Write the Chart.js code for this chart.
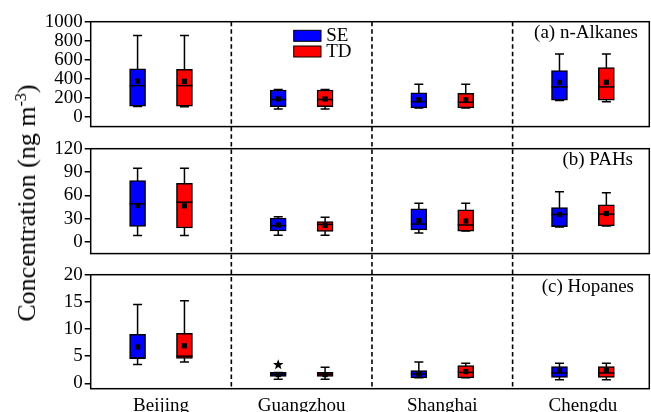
<!DOCTYPE html>
<html>
<head>
<meta charset="utf-8">
<script src="https://cdn.jsdelivr.net/npm/chart.js@4.4.1/dist/chart.umd.min.js"></script>
<style>
  html, body { margin: 0; padding: 0; background: #fff; }
  #wrap { position: relative; width: 651px; height: 412px; overflow: hidden;
          font-family: "Liberation Serif", "Times New Roman", serif; }
  .panel { position: absolute; left: 0; width: 651px; }
  #ytitle { position: absolute; left: 27px; top: 203px; white-space: nowrap;
            transform: translate(-50%, -50%) rotate(-90deg); font-size: 26px; color: #000; }
  #ytitle sup { font-size: 0.62em; vertical-align: 0.55em; line-height: 0; }
</style>
</head>
<body>
<div id="wrap">
  <div class="panel" style="top:0;height:140px"><canvas id="pa"></canvas></div>
  <div class="panel" style="top:126.6px;height:140px"><canvas id="pb"></canvas></div>
  <div class="panel" style="top:252.6px;height:159.4px"><canvas id="pc"></canvas></div>
  <div id="ytitle">Concentration (ng m<sup>-3</sup>)</div>
</div>
<script>
// Sites along the x axis
const cities = ['Beijing', 'Guangzhou', 'Shanghai', 'Chengdu'];
const seriesNames = ['SE', 'TD'];

// Box statistics per city: [min, q1, median, q3, max]
const alkanesSE = [[110, 113, 329, 505, 855], [84, 110, 184, 284, 288], [95, 97, 162, 255, 345], [175, 177, 316, 487, 661]];
const alkanesTD = [[108, 113, 330, 500, 855], [84, 110, 184, 284, 288], [95, 97, 155, 249, 345], [161, 177, 316, 519, 661]];
const alkanesSEMean = [377, 190, 181, 365];
const alkanesTDMean = [375, 190, 181, 365];

const pahsSE = [[8.3, 19.9, 49.2, 79, 95], [8.7, 14.3, 21, 30.6, 32.5], [11.5, 15.5, 23, 42.5, 49.7], [19.3, 19.5, 35.4, 44.1, 64.7]];
const pahsTD = [[8.3, 17.9, 51.2, 75.5, 95], [8.7, 13.5, 22.6, 26.2, 31.8], [14, 14, 21.8, 41.3, 49.7], [20.5, 20.7, 35.8, 47.7, 63.2]];
const pahsSEMean = [46.9, 21.9, 27.4, 35.4];
const pahsTDMean = [46.5, 21.4, 27, 36.6];

const hopanesSE = [[3.45, 4.6, 4.6, 9.0, 14.5], [0.74, 1.24, 1.66, 2.0, 2.0], [1.0, 1.0, 1.73, 2.35, 3.9], [0.63, 1.1, 1.9, 3.08, 3.7]];
const hopanesTD = [[3.9, 4.6, 5.0, 9.2, 15.2], [0.74, 1.24, 1.66, 2.0, 2.95], [1.0, 1.0, 2.0, 3.27, 3.7], [0.63, 1.1, 1.9, 3.08, 3.7]];
const hopanesSEMean = [6.7, 1.6, 1.7, 2.35];
const hopanesTDMean = [6.9, 1.6, 2.16, 2.4];
// Outliers: [city index, value]
const hopanesSEOutliers = [[1, 3.4]];

// Y axis ticks and ranges
const alkanesTicks = [0, 200, 400, 600, 800, 1000];
const pahsTicks = [0, 30, 60, 90, 120];
const hopanesTicks = [0, 5, 10, 15, 20];
const alkanesRange = [-100, 1000];
const pahsRange = [-15, 120];
const hopanesRange = [-1, 20];

const seColor = '#0000ff';
const tdColor = '#ff0000';
const FONT = '"Liberation Serif", "Times New Roman", serif';
const FONT_SIZE = 19;
Chart.defaults.font.family = FONT;
Chart.defaults.color = '#000';

// Position of each series inside its city slot (x axis runs 0..4, one unit per city)
const slotOffset = [1 / 3, 2 / 3];

// Draws whiskers, medians, means, outliers, separators, frame, panel label and legend
const boxPlugin = {
  id: 'boxWhiskers',
  beforeDatasetsDraw(chart) {
    const { ctx, scales: { x, y } } = chart;
    ctx.save();
    ctx.strokeStyle = '#000';
    ctx.lineWidth = 1.5;
    chart.data.datasets.forEach(ds => {
      ds.stats.forEach((s, i) => {
        const px = x.getPixelForValue(ds.data[i].x);
        const yMin = y.getPixelForValue(s[0]);
        const yMax = y.getPixelForValue(s[4]);
        ctx.beginPath();
        ctx.moveTo(px, yMin); ctx.lineTo(px, yMax);
        ctx.moveTo(px - 4.5, yMin); ctx.lineTo(px + 4.5, yMin);
        ctx.moveTo(px - 4.5, yMax); ctx.lineTo(px + 4.5, yMax);
        ctx.stroke();
      });
    });
    ctx.restore();
  },
  afterDatasetsDraw(chart, args, opts) {
    const { ctx, chartArea: a, scales: { x, y } } = chart;
    ctx.save();
    // medians and means
    chart.data.datasets.forEach((ds, di) => {
      const meta = chart.getDatasetMeta(di);
      ds.stats.forEach((s, i) => {
        const bar = meta.data[i];
        const px = bar.x;
        const half = bar.width / 2;
        const ym = y.getPixelForValue(s[2]);
        ctx.strokeStyle = '#000';
        ctx.lineWidth = 1.5;
        ctx.beginPath();
        ctx.moveTo(px - half, ym); ctx.lineTo(px + half, ym);
        ctx.stroke();
        const yMean = y.getPixelForValue(ds.means[i]);
        ctx.fillStyle = '#000';
        ctx.fillRect(px - 2.6, yMean - 2.6, 5.2, 5.2);
      });
      (ds.outliers || []).forEach(([ci, v]) => {
        const px = x.getPixelForValue(ci + slotOffset[di]);
        const py = y.getPixelForValue(v);
        ctx.fillStyle = '#000';
        ctx.beginPath();
        for (let k = 0; k < 10; k++) {
          const r = k % 2 === 0 ? 5.5 : 2.3;
          const ang = -Math.PI / 2 + k * Math.PI / 5;
          const qx = px + r * Math.cos(ang), qy = py + r * Math.sin(ang);
          if (k === 0) ctx.moveTo(qx, qy); else ctx.lineTo(qx, qy);
        }
        ctx.closePath();
        ctx.fill();
      });
    });
    // dashed separators between cities, continuous across panels
    ctx.strokeStyle = '#000';
    ctx.lineWidth = 1.6;
    ctx.setLineDash([4.5, 3]);
    const top = opts.dashTop !== undefined ? opts.dashTop : a.top;
    const bottom = opts.dashBottom !== undefined ? opts.dashBottom : a.bottom;
    ctx.lineDashOffset = opts.dashPhase || 0;
    for (let c = 1; c < cities.length; c++) {
      const px = x.getPixelForValue(c);
      ctx.beginPath();
      ctx.moveTo(px, top); ctx.lineTo(px, bottom);
      ctx.stroke();
    }
    ctx.setLineDash([]);
    // frame
    ctx.lineWidth = 1.5;
    ctx.strokeRect(a.left, a.top, a.right - a.left, a.bottom - a.top);
    // panel label
    ctx.fillStyle = '#000';
    ctx.font = FONT_SIZE + 'px ' + FONT;
    ctx.textBaseline = 'middle';
    ctx.textAlign = 'right';
    ctx.fillText(opts.title, opts.titleRight, a.top + opts.titleDy);
    // legend
    if (opts.legend) {
      ctx.textAlign = 'left';
      chart.data.datasets.forEach((ds, di) => {
        const lx = 293.7, ly = a.top + 8.6 + di * 15.7;
        ctx.fillStyle = ds.backgroundColor;
        ctx.fillRect(lx, ly, 27.3, 11);
        ctx.strokeStyle = '#000';
        ctx.lineWidth = 1;
        ctx.strokeRect(lx, ly, 27.3, 11);
        ctx.fillStyle = '#000';
        ctx.fillText(ds.label, lx + 32.5, ly + 5.8);
      });
    }
    ctx.restore();
  }
};

function makePanel(id, seStats, seMean, tdStats, tdMean, range, ticks, plugOpts, showX, seOutliers) {
  const mkSet = (name, stats, means, color, k, outliers) => ({
    label: name,
    data: stats.map((s, i) => ({ x: i + slotOffset[k], y: [s[1], s[3]] })),
    stats: stats,
    means: means,
    outliers: outliers,
    backgroundColor: color,
    borderColor: '#000',
    borderWidth: 1.5,
    borderSkipped: false,
    barThickness: 16,
    grouped: false
  });
  const bottomPad = showX ? 0 : 4.7;
  return new Chart(document.getElementById(id), {
    type: 'bar',
    data: {
      datasets: [
        mkSet(seriesNames[0], seStats, seMean, seColor, 0, seOutliers),
        mkSet(seriesNames[1], tdStats, tdMean, tdColor, 1, null)
      ]
    },
    options: {
      responsive: true,
      maintainAspectRatio: false,
      animation: false,
      events: [],
      layout: { padding: { top: 21.7, bottom: bottomPad, left: 0, right: 1.7 } },
      plugins: { legend: { display: false }, tooltip: { enabled: false }, boxWhiskers: plugOpts },
      scales: {
        x: {
          type: 'linear', min: 0, max: 3.972, offset: false,
          display: showX,
          grid: { display: false, drawTicks: false, tickLength: 0, offset: false },
          border: { display: false },
          afterBuildTicks: ax => { ax.ticks = cities.map((c, i) => ({ value: i + 0.5 })); },
          afterFit: ax => { if (showX) ax.height = 23.7; },
          ticks: { autoSkip: false, maxRotation: 0, padding: 6, font: { size: FONT_SIZE },
                   callback: (v, i) => cities[i] }
        },
        y: {
          min: range[0], max: range[1],
          afterBuildTicks: ax => { ax.ticks = ticks.map(v => ({ value: v })); },
          afterFit: ax => { ax.width = 90.7; },
          grid: { drawOnChartArea: false, drawTicks: true, tickLength: 6, color: '#000', lineWidth: 1.5 },
          border: { display: false },
          ticks: { autoSkip: false, padding: 2, font: { size: FONT_SIZE }, callback: v => String(v) }
        }
      }
    },
    plugins: [boxPlugin]
  });
}

makePanel('pa', alkanesSE, alkanesSEMean, alkanesTD, alkanesTDMean, alkanesRange, alkanesTicks,
  { title: '(a) n-Alkanes', titleRight: 638, titleDy: 11.5, legend: true, dashBottom: 140, dashPhase: 0 }, false, null);
makePanel('pb', pahsSE, pahsSEMean, pahsTD, pahsTDMean, pahsRange, pahsTicks,
  { title: '(b) PAHs', titleRight: 633, titleDy: 11.5, legend: false, dashTop: 13.4, dashBottom: 140, dashPhase: 140 - 21.7 }, false, null);
makePanel('pc', hopanesSE, hopanesSEMean, hopanesTD, hopanesTDMean, hopanesRange, hopanesTicks,
  { title: '(c) Hopanes', titleRight: 634, titleDy: 12.5, legend: false, dashTop: 14, dashPhase: 266.6 - 21.7 }, true, hopanesSEOutliers);
</script>
</body>
</html>
